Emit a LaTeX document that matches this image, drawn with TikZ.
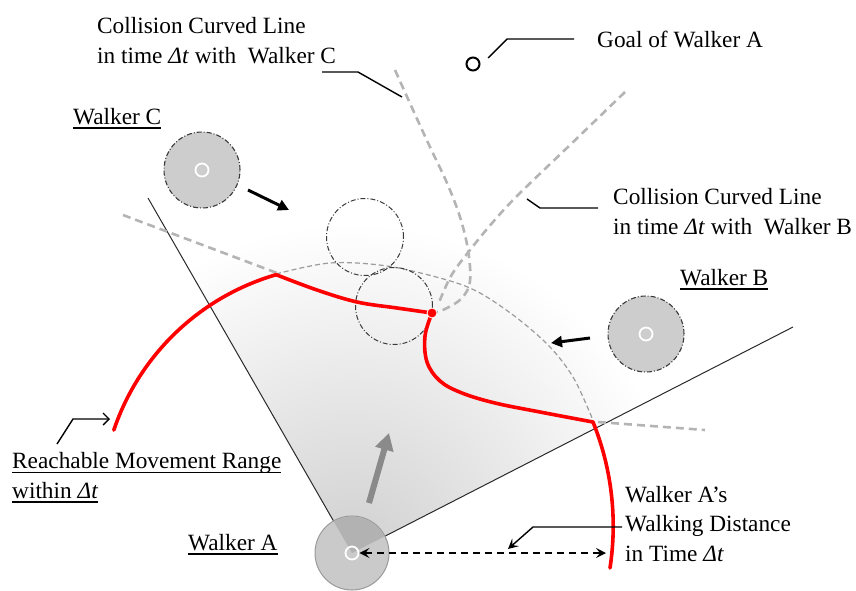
\documentclass[tikz,border=0pt]{standalone}
\usepackage{fontspec}
\setmainfont{Liberation Serif}
\usetikzlibrary{arrows.meta}

\definecolor{walkerfill}{HTML}{CDCDCD}
\definecolor{walkerAfill}{HTML}{CACACA}
\definecolor{sectorgray}{HTML}{B2B2B2}
\definecolor{ringgray}{HTML}{9A9A9A}
\definecolor{dashdark}{HTML}{3A3A3A}
\definecolor{dashgray}{HTML}{B4B4B4}
\definecolor{arcgray}{HTML}{9C9C9C}
\definecolor{arrowgray}{HTML}{8A8A8A}
\definecolor{shadeinner}{HTML}{D0D0D0}
\definecolor{wallcolor}{HTML}{2A2A2A}

% underline drawn as a rule below the baseline
\newcommand\ulbox[1]{\leavevmode\setbox0=\hbox{#1}\rlap{\rule[-4.8pt]{\wd0}{1.6pt}}\box0}

\begin{document}
\begin{tikzpicture}[x=1pt,y=-1pt,
  lbl/.style={anchor=base west, inner sep=0pt, align=left,
              font=\fontsize{23.3}{29.5}\selectfont},
  walker/.style={circle, minimum size=76pt, inner sep=0pt, fill=walkerfill,
                 draw=dashdark, line width=1.1pt,
                 dash pattern=on 5pt off 2pt on 1pt off 2pt},
  ghost/.style={circle, minimum size=77pt, inner sep=0pt, draw=dashdark,
                line width=1pt, dash pattern=on 5pt off 2pt on 1pt off 2pt},
  centerring/.style={circle, minimum size=13pt, inner sep=0pt, draw=white,
                     line width=1.8pt},
  collision/.style={draw=dashgray, line width=2.6pt, dash pattern=on 8pt off 5pt},
  reach/.style={draw=arcgray, line width=1.2pt, dash pattern=on 5pt off 3pt},
  redline/.style={draw=red, line width=3.6pt, line join=round, line cap=round},
  motion/.style={line width=3pt, -{Triangle[length=11pt,width=11pt]}},
  leader/.style={line width=1.4pt},
  wall/.style={draw=wallcolor, line width=1pt},
]
\useasboundingbox (0,0) rectangle (856,590);

% ---- key positions
\coordinate (A) at (352,553);
\coordinate (leftEnd) at (148,198);
\coordinate (rightEnd) at (793,327);

% ---- shaded view cone of walker A, fading out with distance
\begin{scope}
  \clip (A) -- (leftEnd) -- (200,40) -- (720,40) -- (rightEnd) -- cycle;
  \shade[inner color=shadeinner, outer color=white] (A) circle[radius=330pt];
\end{scope}

% ---- walker A
\node[circle, minimum size=74pt, inner sep=0pt, fill=walkerAfill,
      draw=ringgray, line width=1pt] (wa) at (A) {};
\fill[sectorgray] (A) -- ++(27:36.5pt) arc[start angle=27, end angle=120, radius=36.5pt] -- cycle;
\node[centerring] (ringA) at (A) {};

\draw[wall] (wa.120) -- (leftEnd);
\draw[wall] (wa.27) -- (rightEnd);

% ---- reachable distance (thin dashed)
\draw[reach] plot[smooth, tension=0.55] coordinates {(276,274) (330,263) (387,266)
  (447,280) (480,293) (517,318) (550,347) (573,377) (590,413) (593,422)};

% ---- collision curves
\draw[collision] (123,215) -- (277,273);
\draw[collision] (598,422) -- (705,430);
\draw[collision] plot[smooth, tension=0.6] coordinates {(395,70) (413,110) (430,147)
  (447,183) (460,217) (468,250) (470,281) (462,298) (447,308) (437,312)};
\draw[collision] plot[smooth, tension=0.6] coordinates {(625,92) (570,145) (518,195)
  (493,222) (470,250) (451,276) (438,305)};

% ---- predicted positions (dash-dot)
\node[ghost] (ghostC) at (365,237) {};
\node[ghost] (ghostB) at (394,306) {};

% ---- reachable movement range (red)
\coordinate (jLeft) at (276.2,274.7);
\coordinate (jRight) at (593,422);
\draw[redline] (113.8,430.1) arc[start angle=161.3, end angle=106.2, radius=243pt];
\draw[redline] plot[smooth, tension=0.6] coordinates {(jLeft) (317,290) (357,302)
  (397,308) (432,313)};
\draw[redline] plot[smooth, tension=0.6] coordinates {(432,313) (425,336) (427,362)
  (440,381) (462,393) (495,403) (540,412) (jRight)};
\draw[redline] (jRight) arc[start angle=22, end angle=-8.7, radius=277.6pt];
\node[circle, fill=red, draw=white, line width=0.8pt, minimum size=10pt,
      inner sep=0pt] (meet) at (432,313) {};

% ---- walkers B and C
\node[walker] (wc) at (202,170) {};
\node[centerring] (ringC) at (wc) {};
\node[walker] (wb) at (646,334) {};
\node[centerring] (ringB) at (wb) {};

\coordinate (cArrowS) at (248,190);
\coordinate (cArrowE) at (289,210);
\draw[motion] (cArrowS) -- (cArrowE);
\coordinate (bArrowS) at (590,338);
\coordinate (bArrowE) at (551,343);
\draw[motion] (bArrowS) -- (bArrowE);

% ---- heading of walker A
\coordinate (aArrowS) at (369,503);
\coordinate (aArrowE) at (389,433);
\draw[line width=6pt, arrowgray, -{Triangle[length=17pt,width=18pt]}] (aArrowS) -- (aArrowE);

% ---- goal
\node[circle, draw=black, line width=2pt, minimum size=13pt, inner sep=0pt] (goal) at (473,64) {};

% ---- labels (multi-line nodes are placed by the baseline of their last line)
\node[lbl] (lblC) at (97,63) {Collision Curved Line\\in time \textit{Δt} with\ \ Walker C};
\node[lbl] (lblGoal) at (597,47) {Goal of Walker A};
\node[lbl] (lblWC) at (73,124) {\ulbox{Walker C}};
\node[lbl] (lblB) at (613,234) {Collision Curved Line\\in time \textit{Δt} with\ \ Walker B};
\node[lbl] (lblWB) at (680,285) {\ulbox{Walker B}};
\node[lbl] (lblReach) at (12,498) {\ulbox{Reachable Movement Range}\\\ulbox{within \textit{Δt}}};
\node[lbl] (lblWA) at (188,550) {\ulbox{Walker A}};
\node[lbl] (lblDist) at (625,561) {Walker A’s\\Walking Distance\\in Time \textit{Δt}};

% ---- leader lines
\coordinate (cLeadS) at (322,72);
\coordinate (cLeadK) at (358,72);
\coordinate (cLeadE) at (402,97);
\draw[leader] (cLeadS) -- (cLeadK) -- (cLeadE);

\coordinate (gLeadS) at (488,58);
\coordinate (gLeadK) at (507,39);
\coordinate (gLeadE) at (574,39);
\draw[leader] (gLeadS) -- (gLeadK) -- (gLeadE);

\coordinate (bLeadS) at (527,199);
\coordinate (bLeadK) at (540,208);
\coordinate (bLeadE) at (598,208);
\draw[leader] (bLeadS) -- (bLeadK) -- (bLeadE);

\coordinate (rLeadS) at (57,444);
\coordinate (rLeadK) at (73,419);
\coordinate (rLeadE) at (110,419);
\draw[leader, -{Straight Barb[length=6pt,width=12pt]}] (rLeadS) -- (rLeadK) -- (rLeadE);

% ---- walking distance
\coordinate (walkEnd) at (606,553);
\draw[line width=1.8pt, dash pattern=on 7pt off 5pt,
      {Stealth[length=10pt,width=10pt,inset=4pt]}-{Stealth[length=10pt,width=10pt,inset=4pt]}]
      (ringA.east) -- (walkEnd);
\coordinate (dLeadS) at (622,527);
\coordinate (dLeadK) at (533,527);
\coordinate (dLeadE) at (508,549);
\draw[leader, -{Stealth[length=10pt,width=10pt,inset=4pt]}] (dLeadS) -- (dLeadK) -- (dLeadE);

\end{tikzpicture}
\end{document}
